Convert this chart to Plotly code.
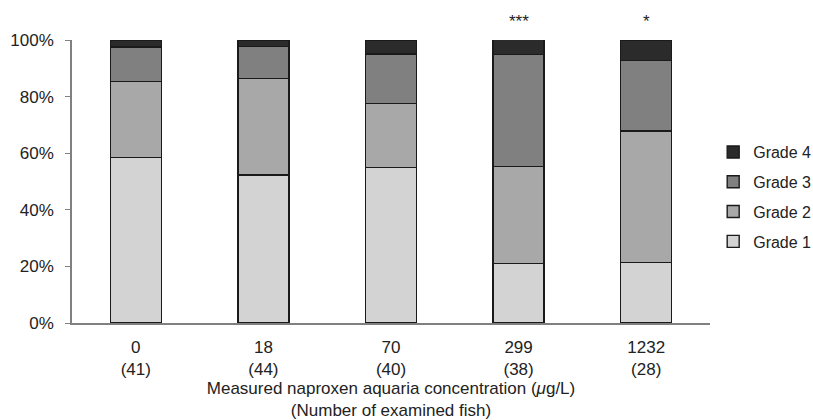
import plotly.graph_objects as go

concentrations = ["0", "18", "70", "299", "1232"]
fish_counts = ["41", "44", "40", "38", "28"]
grade1 = [58.5, 52.3, 55.0, 21.1, 21.4]
grade2 = [26.8, 34.1, 22.5, 34.2, 46.4]
grade3 = [12.2, 11.3, 17.5, 39.5, 25.0]
grade4 = [2.4, 2.3, 5.0, 5.3, 7.1]
significance = ["", "", "", "***", "*"]
y_ticks = [0, 20, 40, 60, 80, 100]

series = [
    ("Grade 1", grade1, "#d3d3d3"),
    ("Grade 2", grade2, "#a8a8a8"),
    ("Grade 3", grade3, "#808080"),
    ("Grade 4", grade4, "#2b2b2b"),
]

x_idx = list(range(len(concentrations)))
tick_text = [f"{c}<br>({n})" for c, n in zip(concentrations, fish_counts)]

fig = go.Figure()
for k, (name, vals, col) in enumerate(series):
    fig.add_trace(go.Bar(
        x=x_idx, y=vals, name=name, legendgroup=name,
        legendrank=len(series) - k,
        marker=dict(color=col, line=dict(color="#1a1a1a", width=1.4)),
        width=0.4,
    ))

for i, s in enumerate(significance):
    if s:
        fig.add_annotation(x=i, y=100, text=s, showarrow=False,
                           yanchor="bottom", yshift=7,
                           font=dict(size=17, color="#222"))

fig.update_layout(
    width=813, height=420,
    barmode="stack",
    plot_bgcolor="white", paper_bgcolor="white",
    margin=dict(l=72, r=103, t=40, b=97, autoexpand=False),
    font=dict(family="Liberation Sans, Arial, sans-serif", size=17, color="#222"),
    legend=dict(x=1.005, xanchor="left", y=0.445, yanchor="middle",
                traceorder="grouped", tracegroupgap=6,
                font=dict(size=16), itemwidth=30),
    showlegend=True,
)
fig.update_xaxes(
    range=[-0.5, 4.5], tickmode="array", tickvals=x_idx, ticktext=tick_text,
    showline=True, linecolor="#808080", linewidth=1.5, ticks="",
    ticklabelstandoff=8, automargin=False,
    showgrid=False, zeroline=False,
    title=dict(text="Measured naproxen aquaria concentration (<i>μ</i>g/L)<br>(Number of examined fish)",
               standoff=9, font=dict(size=17)),
)
fig.update_yaxes(
    range=[0, 100], tickmode="array", tickvals=y_ticks,
    ticktext=[f"{v}%" for v in y_ticks],
    showline=True, linecolor="#808080", linewidth=1.5,
    ticks="outside", ticklen=5, tickcolor="#808080",
    ticklabelstandoff=8, automargin=False,
    showgrid=False, zeroline=False,
)

fig.write_html("out.html")
